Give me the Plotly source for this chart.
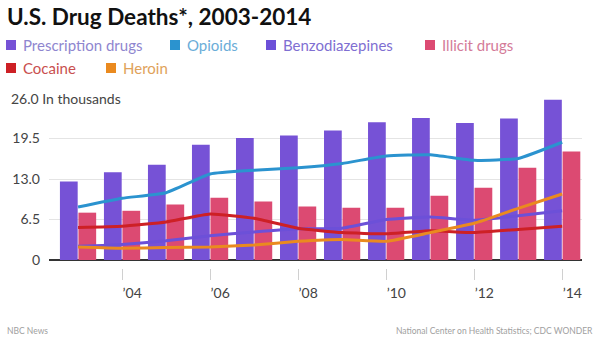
import plotly.graph_objects as go

# U.S. drug overdose deaths, in thousands
years = list(range(2003, 2015))
prescription = [12.6, 14.1, 15.3, 18.5, 19.6, 20.0, 20.8, 22.1, 22.8, 22.0, 22.7, 25.7]
illicit = [7.6, 7.9, 8.9, 10.0, 9.4, 8.6, 8.4, 8.4, 10.3, 11.6, 14.8, 17.4]
opioids = [8.5, 9.9, 10.8, 13.8, 14.4, 14.8, 15.5, 16.7, 16.9, 16.0, 16.3, 18.9]
benzodiazepines = [2.2, 2.5, 3.1, 3.9, 4.5, 5.0, 5.1, 6.5, 6.9, 6.4, 7.1, 7.9]
cocaine = [5.2, 5.4, 6.1, 7.4, 6.7, 5.1, 4.4, 4.2, 4.7, 4.4, 4.9, 5.4]
heroin = [2.1, 1.9, 2.0, 2.1, 2.4, 3.0, 3.3, 3.0, 4.4, 5.9, 8.3, 10.6]

x_tickvals = [2004, 2006, 2008, 2010, 2012, 2014]
x_ticktext = ["\u201904", "\u201906", "\u201908", "\u201910", "\u201912", "\u201914"]
y_tickvals = [0, 6.5, 13, 19.5, 26]
y_ticktext = ["0", "6.5", "13.0", "19.5", ""]

PURPLE = "#7652d6"
PINK = "#dc4a72"
BLUE = "#2b93cf"
BENZO = "#6c50d8"
RED = "#cd2025"
ORANGE = "#ea8a1f"

FONT = "Lato"
W, H = 600, 338
ML, MR, MT, MB = 49, 18, 98, 70
PW, PH = W - ML - MR, H - MT - MB


def px(xp):
    return (xp - ML) / PW


def py(yp):
    return (H - MB - yp) / PH


fig = go.Figure()
fig.add_bar(x=years, y=prescription, marker_color=PURPLE, marker_line_width=0,
            name="Prescription drugs")
fig.add_bar(x=years, y=illicit, marker_color=PINK, marker_line_width=0,
            name="Illicit drugs")

for vals, col, nm in [(opioids, BLUE, "Opioids"),
                      (benzodiazepines, BENZO, "Benzodiazepines"),
                      (cocaine, RED, "Cocaine"),
                      (heroin, ORANGE, "Heroin")]:
    fig.add_scatter(x=years, y=vals, mode="lines", name=nm,
                    line=dict(color=col, width=3, shape="spline", smoothing=0.4))

fig.update_traces(showlegend=False)

annotations = []
shapes = []

# Title
annotations.append(dict(
    text="<b>U.S. Drug Deaths*, 2003-2014</b>", xref="paper", yref="paper",
    x=px(5), y=py(17), xanchor="left", yanchor="middle", showarrow=False,
    font=dict(family=FONT, size=22.5, color="#111")))

# Legend rows
legend_items = [
    ("Prescription drugs", PURPLE, "#8f86cf", 6, 45),
    ("Opioids", BLUE, "#6badd8", 170, 45),
    ("Benzodiazepines", BENZO, "#7f6fd2", 266, 45),
    ("Illicit drugs", PINK, "#d47b99", 425, 45),
    ("Cocaine", RED, "#c9504f", 6, 68),
    ("Heroin", ORANGE, "#e0a25a", 106, 68),
]
for label, sq, tc, x0, yc in legend_items:
    shapes.append(dict(type="rect", xref="paper", yref="paper",
                       x0=px(x0), x1=px(x0 + 10), y0=py(yc + 5), y1=py(yc - 5),
                       fillcolor=sq, line_width=0))
    annotations.append(dict(
        text=label, xref="paper", yref="paper", x=px(x0 + 15), y=py(yc),
        xanchor="left", yanchor="middle", showarrow=False,
        font=dict(family=FONT, size=15, color=tc)))

# Top axis label
annotations.append(dict(
    text="26.0 In thousands", xref="paper", yref="y", x=px(6), y=26,
    xanchor="left", yanchor="middle", showarrow=False, bgcolor="white",
    borderpad=4, font=dict(family=FONT, size=14, color="#444")))

# Footer
annotations.append(dict(
    text="NBC News", xref="paper", yref="paper", x=px(5), y=py(331),
    xanchor="left", yanchor="middle", showarrow=False,
    font=dict(family=FONT, size=8.5, color="#a0a0a0")))
annotations.append(dict(
    text="National Center on Health Statistics; CDC WONDER", xref="paper",
    yref="paper", x=px(595), y=py(331), xanchor="right", yanchor="middle",
    showarrow=False, font=dict(family=FONT, size=8.5, color="#a0a0a0")))

fig.update_layout(
    width=W, height=H, margin=dict(l=ML, r=MR, t=MT, b=MB, pad=0),
    paper_bgcolor="white", plot_bgcolor="white",
    barmode="group", bargap=0.16, bargroupgap=0.04,
    font=dict(family=FONT, size=14, color="#444"),
    annotations=annotations, shapes=shapes,
    xaxis=dict(range=[2002.34, 2014.45], tickvals=x_tickvals, ticktext=x_ticktext,
               showgrid=False, showline=False, zeroline=False,
               ticks="outside", ticklen=11, tickcolor="#d0d0d0", tickwidth=1,
               ticklabelposition="outside right", ticklabelstandoff=12,
               tickfont=dict(family=FONT, size=14, color="#444")),
    yaxis=dict(range=[-1.28, 26], tickvals=y_tickvals, ticktext=y_ticktext,
               showgrid=True, gridcolor="#e4e4e4", gridwidth=1,
               zeroline=True, zerolinecolor="#333", zerolinewidth=1.5,
               showline=False, ticks="", ticklabelstandoff=8,
               tickfont=dict(family=FONT, size=14, color="#444")),
)

fig.write_html("out.html")
